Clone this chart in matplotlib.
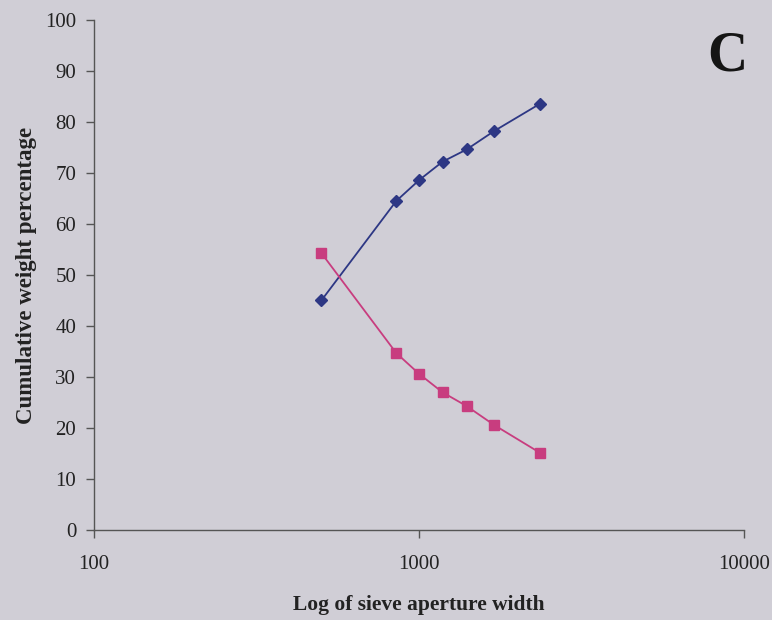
import numpy as np
import matplotlib
matplotlib.use("Agg")
import matplotlib.pyplot as plt
from matplotlib.ticker import FixedLocator, NullLocator, FixedFormatter

# sieve aperture widths (microns)
sieve_sizes = [500, 850, 1000, 1180, 1400, 1700, 2360]

# cumulative weight percentages
passing = [45.0, 64.5, 68.6, 72.2, 74.6, 78.2, 83.6]
retained = [54.3, 34.7, 30.6, 27.0, 24.3, 20.6, 15.1]

x_ticks = [100, 1000, 10000]
x_tick_labels = ["100", "1000", "10000"]
y_ticks = list(range(0, 101, 10))

bg = "#d0ced6"
axis_col = "#555555"
text_col = "#222222"

plt.rcParams['font.family'] = ['Liberation Serif', 'DejaVu Serif']

fig = plt.figure(figsize=(7.72, 6.2), dpi=100, facecolor=bg)
ax = fig.add_axes([0.122, 0.145, 0.842, 0.823])
ax.set_facecolor(bg)

ax.plot(sieve_sizes, passing, color="#2d3784", lw=1.3, marker="D",
        markersize=6.5, markerfacecolor="#2d3784", markeredgecolor="#2d3784")
ax.plot(sieve_sizes, retained, color="#c83d7f", lw=1.3, marker="s",
        markersize=7.5, markerfacecolor="#c83d7f", markeredgecolor="#c83d7f")

ax.set_xscale("log")
ax.set_xlim(100, 10000)
ax.set_ylim(0, 100)
ax.xaxis.set_major_locator(FixedLocator(x_ticks))
ax.xaxis.set_major_formatter(FixedFormatter(x_tick_labels))
ax.xaxis.set_minor_locator(NullLocator())
ax.set_yticks(y_ticks)

for side in ("top", "right"):
    ax.spines[side].set_visible(False)
for side in ("left", "bottom"):
    ax.spines[side].set_color(axis_col)
    ax.spines[side].set_linewidth(1.0)

ax.tick_params(axis="both", direction="out", color=axis_col, width=1.0,
               length=6, labelsize=15, labelcolor=text_col)
ax.tick_params(axis="x", pad=12)
ax.tick_params(axis="y", pad=7)

ax.set_xlabel("Log of sieve aperture width", fontsize=15.5, fontweight="bold",
              color=text_col, labelpad=15)
ax.set_ylabel("Cumulative weight percentage", fontsize=16.5, fontweight="bold",
              color=text_col, labelpad=6)

ax.text(1.005, 0.9, "C", transform=ax.transAxes, fontsize=40,
        fontweight="bold", color="#151515", ha="right", va="baseline")

fig.savefig("out.png", dpi=100, facecolor=bg)
